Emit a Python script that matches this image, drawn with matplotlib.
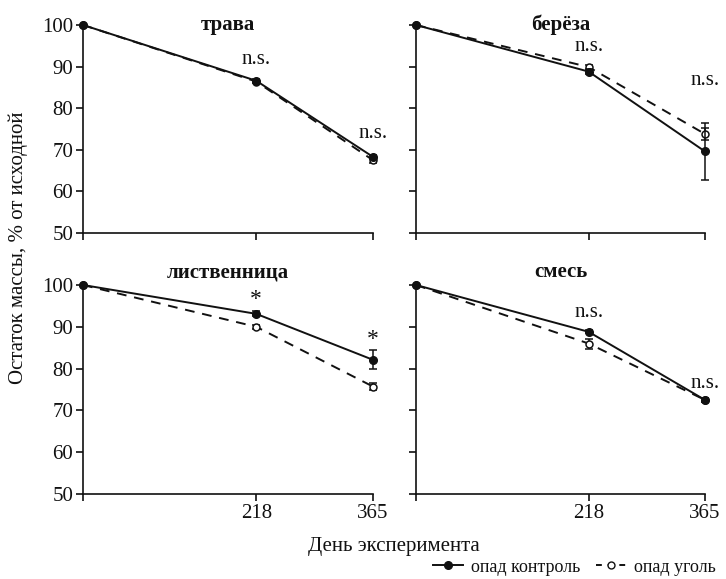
import matplotlib
matplotlib.use("Agg")
import matplotlib.pyplot as plt
from matplotlib.lines import Line2D

plt.rcParams['font.family'] = ['Liberation Serif', 'DejaVu Serif']

days = [0, 218, 365]
panels = ["трава", "берёза", "лиственница", "смесь"]

# mean remaining mass, % of initial
control = {
    "трава": [100, 86.6, 68.3],
    "берёза": [100, 88.8, 69.6],
    "лиственница": [100, 93.1, 82.1],
    "смесь": [100, 88.8, 72.5],
}
coal = {
    "трава": [100, 86.4, 67.5],
    "берёза": [100, 89.9, 73.8],
    "лиственница": [100, 90.0, 75.7],
    "смесь": [100, 86.0, 72.5],
}
control_err = {
    "трава": [0, 0.4, 0.5],
    "берёза": [0, 0.6, 6.8],
    "лиственница": [0, 0.6, 2.3],
    "смесь": [0, 0.4, 0.4],
}
coal_err = {
    "трава": [0, 0.4, 0.6],
    "берёза": [0, 0.6, 1.5],
    "лиственница": [0, 0.5, 0.9],
    "смесь": [0, 1.2, 0.4],
}
# significance marks: (day, y, text)
marks = {
    "трава": [(218, 91.8, "n.s."), (365, 73.8, "n.s.")],
    "берёза": [(218, 94.8, "n.s."), (365, 86.7, "n.s.")],
    "лиственница": [(218, 96.6, "*"), (365, 87.0, "*")],
    "смесь": [(218, 93.5, "n.s."), (365, 76.5, "n.s.")],
}
title_y = {"трава": 100.0, "берёза": 100.0, "лиственница": 103.0, "смесь": 103.0}

yticks = [50, 60, 70, 80, 90, 100]
xticklabels = ["", "218", "365"]
legend_labels = ["опад контроль", "опад уголь"]

W, H = 726, 579
fig = plt.figure(figsize=(W / 100, H / 100), dpi=100)

col_x = [(83, 373), (416, 705)]
row_y = [(25, 233), (285, 494)]

ink = "#111111"
fs = 15

for i, name in enumerate(panels):
    r, c = divmod(i, 2)
    x0, x1 = col_x[c]
    yt, yb = row_y[r]
    ax = fig.add_axes([x0 / W, 1 - yb / H, (x1 - x0) / W, (yb - yt) / H])
    ax.set_xlim(0, 365)
    ax.set_ylim(50, 100)
    for s in ("top", "right"):
        ax.spines[s].set_visible(False)
    for s in ("left", "bottom"):
        ax.spines[s].set_color(ink)
        ax.spines[s].set_linewidth(1.2)
    ax.set_yticks(yticks)
    ax.set_xticks(days)
    ax.tick_params(direction="out", length=5, width=1.2, color=ink,
                   labelsize=fs, labelcolor=ink, pad=2)
    if c == 0:
        ax.set_yticklabels([str(v) for v in yticks])
    else:
        ax.set_yticklabels([])
    if r == 1:
        ax.set_xticklabels(xticklabels)
    else:
        ax.set_xticklabels([])

    ax.errorbar(days, coal[name], yerr=coal_err[name], color=ink, lw=1.4,
                ls=(0, (5, 4)), marker="o", ms=5, mfc="white", mec=ink, mew=1.1,
                ecolor=ink, elinewidth=1.1, capsize=3, capthick=1.1,
                clip_on=False, zorder=3)
    ax.errorbar(days, control[name], yerr=control_err[name], color=ink, lw=1.4,
                ls="-", marker="o", ms=5.5, mfc=ink, mec=ink,
                ecolor=ink, elinewidth=1.1, capsize=3, capthick=1.1,
                clip_on=False, zorder=4)

    for d, yv, t in marks[name]:
        ax.text(d, yv, t, ha="center", va="center", fontsize=fs if t != "*" else 17,
                color=ink, clip_on=False)
    ax.text(182.5, title_y[name], name, ha="center", va="center", fontsize=fs,
            fontweight="bold", color=ink, clip_on=False)

fig.text(18 / W, 1 - 248 / H, "Остаток массы, % от исходной", rotation=90,
         ha="center", va="center", fontsize=fs, color=ink)
fig.text(394 / W, 1 - 546 / H, "День эксперимента", ha="center", va="center",
         fontsize=fs, color=ink)

handles = [
    Line2D([], [], color=ink, lw=1.4, ls="-", marker="o", ms=5.5, mfc=ink, mec=ink),
    Line2D([], [], color=ink, lw=1.4, ls=(0, (3, 3)), marker="o", ms=5, mfc="white", mec=ink),
]
fig.legend(handles, legend_labels, loc="center right", bbox_to_anchor=(723 / W, 1 - 567 / H),
           ncol=2, frameon=False, fontsize=13, handlelength=1.7, handletextpad=0.4,
           columnspacing=0.9, borderaxespad=0, labelcolor=ink)

fig.savefig("out.png", dpi=100)
